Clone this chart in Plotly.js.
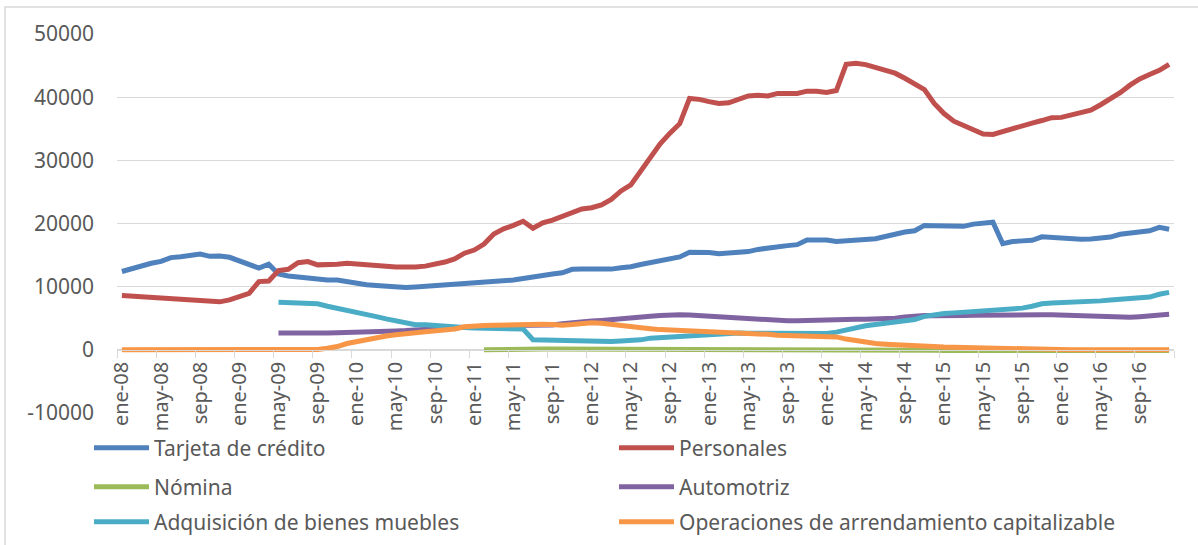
<!DOCTYPE html>
<html>
<head>
<meta charset="utf-8">
<script src="https://cdn.plot.ly/plotly-3.0.1.min.js"></script>
<style>
  html, body { margin: 0; padding: 0; background: #fff; }
  #chart { width: 1198px; height: 545px; }
</style>
</head>
<body>
<div id="chart"></div>
<script>
// Month categories: ene-08 ... dic-16
const monthNames = ["ene", "feb", "mar", "abr", "may", "jun", "jul", "ago", "sep", "oct", "nov", "dic"];
const years = [2008, 2009, 2010, 2011, 2012, 2013, 2014, 2015, 2016];
const months = [];
years.forEach((y) => monthNames.forEach((m) => months.push(m + "-" + String(y).slice(2))));

// Labels shown every 4 months
const tickIdx = months.map((m, i) => i).filter((i) => i % 4 === 0);
const tickLabels = tickIdx.map((i) => months[i]);

const yTicks = [-10000, 0, 10000, 20000, 30000, 40000, 50000];

// Series values
const tarjeta = [
  12400, 12900, 13400, 13700, 14000, 14600, 14750, 14900, 15150, 14800,
  14850, 14650, 14100, 13600, 12950, 13550, 12000, 11700, 11500, 11350,
  11150, 11050, 11050, 10800, 10500, 10300, 10200, 10050, 9950, 9870,
  9950, 10050, 10150, 10250, 10450, 10500, 10500, 10600, 10700, 10900,
  11050, 11300, 11600, 11800, 12000, 12200, 12750, 12800, 12820, 12780,
  12780, 13000, 13150, 13500, 13800, 14200, 14450, 14700, 15450, 15450,
  15400, 15200, 15300, 15350, 15550, 15900, 16150, 16350, 16500, 16650,
  17400, 17400, 17400, 17150, 17300, 17400, 17450, 17600, 17950, 18400,
  18650, 18850, 19700, 19650, 19650, 19600, 19550, 19900, 20000, 20200,
  16800, 17150, 17250, 17350, 17900, 17800, 17700, 17500, 17500, 17550,
  17650, 17850, 18300, 18550, 18700, 18850, 19400, 19100
];

const personales = [
  8600, 8500, 8430, 8330, 8200, 8070, 7980, 7910, 7800, 7600,
  7600, 7900, 8350, 8950, 10800, 10900, 12550, 12750, 13800, 13980,
  13450, 13450, 13550, 13700, 13600, 13450, 13500, 13250, 13100, 13050,
  13100, 13250, 13500, 13900, 14400, 15300, 15800, 16750, 18350, 19150,
  19700, 20350, 19250, 20100, 20550, 21100, 21600, 22300, 22500, 22950,
  23800, 25150, 26100, 28200, 30300, 32600, 34300, 35800, 39800, 39650,
  39300, 39000, 39100, 39700, 40200, 40300, 40200, 40600, 40650, 40600,
  40950, 40950, 40750, 41050, 45200, 45350, 45150, 44700, 44300, 43800,
  43000, 42200, 41200, 39000, 37400, 36200, 35500, 34700, 34150, 34100,
  34600, 35000, 35500, 35900, 36300, 36750, 36800, 37150, 37600, 37950,
  38800, 39700, 40700, 41900, 42900, 43600, 44250, 45200
];

// Nómina starts in feb-11
const nominaStart = 37;
const nomina = [
  0, 50, 100, 120, 130, 130, 130, 130, 130, 120,
  110, 100, 100, 100, 100, 100, 100, 100, 100, 100,
  100, 100, 100, 100, 100, 100, 100, 100, 100, 100,
  90, 80, 70, 60, 50, 50, 50, 40, 30, 20,
  10, 0, 0, 0, 0, 0, -50, -100, -100, -100,
  -100, -100, -100, -100, -100, -100, -100, -100, -100, -100,
  -100, -100, -100, -100, -100, -100, -100, -100, -100, -100,
  -100
];

// Automotriz and Adquisición start in may-09
const autoStart = 16;
const automotriz = [
  2650, 2620, 2580, 2560, 2600, 2650, 2700, 2720, 2740, 2760,
  2800, 2950, 3000, 3050, 3150, 3250, 3350, 3450, 3550, 3620,
  3680, 3750, 3800, 3830, 3850, 3850, 3850, 3850, 3950, 4150,
  4350, 4450, 4550, 4650, 4750, 4850, 5000, 5150, 5300, 5450,
  5550, 5550, 5500, 5400, 5250, 5150, 5050, 4950, 4900, 4800,
  4700, 4620, 4590, 4590, 4650, 4800, 4850, 4850, 4850, 4850,
  4850, 4850, 4900, 5000, 5200, 5350, 5450, 5400, 5350, 5380,
  5420, 5460, 5500, 5520, 5540, 5540, 5550, 5550, 5550, 5540,
  5500, 5400, 5300, 5250, 5200, 5150, 5120, 5150, 5250, 5350,
  5450, 5650
];

const adqStart = 16;
const adquisicion = [
  7550, 7450, 7380, 7320, 7280, 6900, 6600, 6300, 5950, 5600,
  5250, 4900, 4550, 4150, 3980, 3960, 3900, 3750, 3650, 3550,
  3450, 3400, 3350, 3320, 3320, 3300, 1600, 1550, 1500, 1450,
  1350, 1300, 1300, 1300, 1320, 1400, 1480, 1580, 1850, 1950,
  2050, 2200, 2350, 2450, 2550, 2640, 2650, 2650, 2640, 2640,
  2640, 2640, 2620, 2580, 2540, 2540, 2600, 2800, 3200, 3550,
  3800, 4000, 4200, 4400, 4600, 4800, 5300, 5600, 5750, 5850,
  5950, 6100, 6300, 6400, 6500, 6550, 6600, 6900, 7300, 7400,
  7450, 7480, 7520, 7600, 7750, 7900, 8050, 8150, 8250, 8350,
  8800, 9100
];

const operaciones = [
  0, 0, 0, 0, 0, 0, 0, 0, 0, 0,
  0, 0, 0, 0, 0, 0, 0, 0, 0, 0,
  50, 250, 520, 1000, 1350, 1600, 1850, 2200, 2400, 2480,
  2700, 2850, 2950, 3050, 3300, 3650, 3800, 3850, 3900, 3950,
  4000, 4050, 4060, 4050, 4000, 3900, 4000, 4250, 4300, 4200,
  4000, 3800, 3650, 3500, 3350, 3200, 3150, 3100, 3000, 2900,
  2850, 2800, 2750, 2700, 2640, 2550, 2450, 2300, 2250, 2220,
  2240, 2260, 2200, 2050, 1700, 1400, 1150, 1000, 900, 800,
  700, 620, 560, 520, 450, 420, 380, 320, 270, 200,
  130, 60, 0, 0, 0, 0, 0, 0, 0, 0,
  0, 0, 0, 0, 0, 0, 0, 0
];

const idx = months.map((m, i) => i);
const family = "'Noto Sans', sans-serif";
const txtColor = "#595959";
const gridColor = "#d9d9d9";
const fontSize = 21;

function series(name, values, start, color, legend) {
  return {
    x: idx.slice(start, start + values.length),
    y: values,
    customdata: months.slice(start, start + values.length),
    name: name,
    type: "scatter",
    mode: "lines",
    line: { color: color, width: 5 },
    legend: legend,
    hovertemplate: "%{customdata}: %{y}<extra>" + name + "</extra>",
  };
}

const traces = [
  series("Tarjeta de crédito", tarjeta, 0, "#4f81bd", "legend"),
  series("Personales", personales, 0, "#c0504d", "legend"),
  series("Nómina", nomina, nominaStart, "#9bbb59", "legend2"),
  series("Automotriz", automotriz, autoStart, "#8064a2", "legend2"),
  series("Adquisición de bienes muebles", adquisicion, adqStart, "#4bacc6", "legend3"),
  series("Operaciones de arrendamiento capitalizable", operaciones, 0, "#f79646", "legend3"),
];

// plot box: x 117..1174, y 34..413 (px)
const plotL = 117, plotR = 1174, plotT = 34, plotB = 413;
const pw = plotR - plotL, ph = plotB - plotT;
const px = (v) => (v - plotL) / pw;
const py = (v) => (plotB - v) / ph;

function legendRow(yPx) {
  return {
    orientation: "h",
    x: px(89),
    xanchor: "left",
    y: py(yPx),
    yanchor: "middle",
    entrywidth: 455,
    entrywidthmode: "pixels",
    itemwidth: 55,
    bgcolor: "rgba(0,0,0,0)",
    font: { family: family, size: fontSize, color: txtColor },
    itemclick: false,
    itemdoubleclick: false,
  };
}

const layout = {
  width: 1198,
  height: 545,
  margin: { l: plotL, r: 1198 - plotR, t: plotT, b: 545 - plotB, autoexpand: false },
  paper_bgcolor: "#ffffff",
  plot_bgcolor: "#ffffff",
  font: { family: family, size: fontSize, color: txtColor },
  showlegend: true,
  xaxis: {
    type: "linear",
    range: [-0.5, months.length - 0.5],
    tickmode: "array",
    tickvals: tickIdx,
    ticktext: tickLabels,
    tickangle: -90,
    ticks: "",
    minor: {
      ticks: "outside",
      tickmode: "linear",
      tick0: -0.5,
      dtick: 4,
      ticklen: 7,
      tickwidth: 1,
      tickcolor: gridColor,
      showgrid: false,
    },
    showgrid: false,
    zeroline: false,
    showline: true,
    linecolor: gridColor,
    linewidth: 1,
    anchor: "free",
    position: (0 - yTicks[0]) / (yTicks[yTicks.length - 1] - yTicks[0]),
    tickfont: { family: family, size: 20, color: txtColor },
    ticklabelstandoff: 3,
    fixedrange: true,
  },
  yaxis: {
    range: [yTicks[0], yTicks[yTicks.length - 1]],
    tickmode: "array",
    tickvals: yTicks,
    ticktext: yTicks.map(String),
    ticks: "",
    showgrid: true,
    gridcolor: gridColor,
    gridwidth: 1.3,
    zeroline: false,
    showline: false,
    tickfont: { family: family, size: fontSize, color: txtColor },
    ticklabelstandoff: 22,
    fixedrange: true,
  },
  legend: legendRow(448),
  legend2: legendRow(487),
  legend3: legendRow(522),
  shapes: [
    {
      type: "rect",
      xref: "paper",
      yref: "paper",
      x0: px(5),
      x1: px(1260),
      y0: py(600),
      y1: py(7),
      line: { color: gridColor, width: 1.5 },
      fillcolor: "rgba(0,0,0,0)",
      layer: "below",
    },
  ],
};

Plotly.newPlot("chart", traces, layout, { displayModeBar: false, staticPlot: false });
</script>
</body>
</html>
